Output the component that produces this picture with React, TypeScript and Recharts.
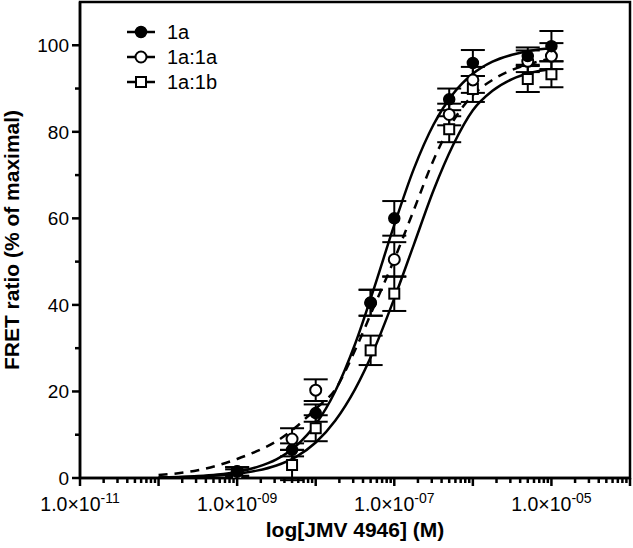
import React from 'react'
import {
  ComposedChart,
  Line,
  Scatter,
  ErrorBar,
  XAxis,
  YAxis,
  ReferenceArea,
} from 'recharts'

// concentrations (M) of the measured points
const doses = [1e-9, 5e-9, 1e-8, 5e-8, 1e-7, 5e-7, 1e-6, 5e-6, 1e-5]

const mean1a = [1.5, 6.5, 15, 40.5, 60, 87.5, 95.9, 97.5, 99.8]
const sem1a = [1, 1.5, 2, 3, 4, 2.5, 3, 2, 3.5]
const mean1a1a = [1.5, 9, 20.3, 40.5, 50.5, 84, 92, 96.3, 97.5]
const sem1a1a = [1, 2.5, 2.5, 3, 4, 2.5, 3, 2.5, 3]
const mean1a1b = [1, 3, 11.5, 29.5, 42.6, 80.6, 89.9, 92.2, 93.3]
const sem1a1b = [1, 3.5, 3, 3.4, 4, 3, 3, 3, 3]

// fitted curves, read at quarter-decade steps (log M)
const curveLog = [
  -10, -9.75, -9.5, -9.25, -9, -8.75, -8.5, -8.25, -8, -7.75, -7.5,
  -7.25, -7, -6.75, -6.5, -6.25, -6, -5.75, -5.5, -5.25, -5,
]
const fit1a = [
  0.14, 0.25, 0.44, 0.79, 1.4, 2.5, 4.3, 7.4, 12.4, 20.1, 30.9,
  44.3, 58.5, 71.5, 81.7, 88.8, 93.4, 96.2, 97.8, 98.8, 99.3,
]
const fit1a1a = [
  0.7, 1.1, 1.8, 2.9, 4.4, 6.2, 8.5, 11.8, 16, 20.5, 29.5,
  40, 50.5, 62, 73.5, 82.5, 88.5, 92, 94.3, 95.8, 97,
]
const fit1a1b = [
  0.1, 0.2, 0.35, 0.6, 1.0, 1.7, 2.9, 4.9, 8.2, 13.3, 20.5,
  30, 41.5, 54, 66.5, 77, 85, 89.5, 92.2, 93.7, 94.5,
]

const xMajor = [-11, -10, -9, -8, -7, -6, -5, -4]
const xLabelled = [-11, -9, -7, -5]
const yTicks = [0, 10, 20, 30, 40, 50, 60, 70, 80, 90, 100]
const yLabelled = [0, 20, 40, 60, 80, 100]
const legendNames = ['1a', '1a:1a', '1a:1b']

const FONT = '"Liberation Sans", Arial, Helvetica, sans-serif'

const xTicks: number[] = []
xMajor.forEach((d, i) => {
  xTicks.push(d)
  if (i < xMajor.length - 1) {
    for (let k = 2; k <= 9; k++) xTicks.push(d + Math.log10(k))
  }
})

const points = (means: number[], sems: number[]) =>
  doses.map((c, i) => ({ x: Math.log10(c), y: means[i], err: sems[i] }))
const curve = (vals: number[]) => curveLog.map((x, i) => ({ x, y: vals[i] }))

const XTick = (props: any) => {
  const { x, y, payload } = props
  const v = payload.value as number
  const major = Math.abs(v - Math.round(v)) < 1e-6
  const exp = Math.round(v)
  const lab = major && xLabelled.includes(exp)
  return (
    <g>
      <line x1={x} x2={x} y1={y} y2={y + (major ? 8 : 5)} stroke="#000" strokeWidth={2.5} />
      {lab && (
        <text x={x} y={y + 33} textAnchor="middle" fontSize={19.5} fontFamily={FONT} fill="#000">
          <tspan>1.0×10</tspan>
          <tspan dy={-8} fontSize={14}>{'-' + String(-exp).padStart(2, '0')}</tspan>
        </text>
      )}
    </g>
  )
}

const YTick = (props: any) => {
  const { x, y, payload } = props
  const v = payload.value as number
  const lab = yLabelled.includes(v)
  return (
    <g>
      <line x1={x - (lab ? 8 : 5)} x2={x} y1={y} y2={y} stroke="#000" strokeWidth={2.5} />
      {lab && (
        <text x={x - 11} y={y} dy="0.36em" textAnchor="end" fontSize={19} fontFamily={FONT} fill="#000">
          {v}
        </text>
      )}
    </g>
  )
}

const FilledDot = (p: any) => <circle cx={p.cx} cy={p.cy} r={5.5} fill="#000" stroke="#000" strokeWidth={1.5} />
const OpenDot = (p: any) => <circle cx={p.cx} cy={p.cy} r={5.5} fill="#fff" stroke="#000" strokeWidth={2} />
const OpenSquare = (p: any) => <rect x={p.cx - 5} y={p.cy - 5} width={10} height={10} fill="#fff" stroke="#000" strokeWidth={2} />

const markers = [FilledDot, OpenDot, OpenSquare]

function ChartLegend() {
  return (
    <svg width={130} height={80} style={{ position: 'absolute', left: 125, top: 20 }}>
      {legendNames.map((name, i) => {
        const cy = 12 + i * 25
        const Marker = markers[i]
        return (
          <g key={name}>
            <line x1={2} x2={30} y1={cy} y2={cy} stroke="#000" strokeWidth={2.5} />
            <Marker cx={16} cy={cy} />
            <text x={42} y={cy} dy="0.36em" fontSize={20} fontFamily={FONT} fill="#000">{name}</text>
          </g>
        )
      })}
    </svg>
  )
}

export default function App() {
  return (
    <div style={{ position: 'absolute', left: 0, top: 0, width: 633, height: 548, background: '#fff' }}>
      <ComposedChart width={633} height={548} margin={{ top: 2, right: 3, left: 0, bottom: 0 }}>
        <XAxis
          type="number"
          dataKey="x"
          domain={[-11, -4]}
          ticks={xTicks}
          interval={0}
          allowDataOverflow
          height={70}
          tickSize={0}
          tickMargin={0}
          tickLine={false}
          axisLine={{ stroke: '#000', strokeWidth: 2.5 }}
          tick={XTick}
          label={{
            value: 'log[JMV 4946] (M)',
            position: 'insideBottom',
            offset: 11,
            style: { fontFamily: FONT, fontSize: 21, fontWeight: 'bold', fill: '#000' },
          }}
        />
        <YAxis
          type="number"
          dataKey="y"
          domain={[0, 110]}
          ticks={yTicks}
          interval={0}
          allowDataOverflow
          width={80}
          tickSize={0}
          tickMargin={0}
          tickLine={false}
          axisLine={{ stroke: '#000', strokeWidth: 2.5 }}
          tick={YTick}
          label={{
            value: 'FRET ratio (% of maximal)',
            angle: -90,
            position: 'insideLeft',
            offset: 0,
            dx: 12,
            style: { fontFamily: FONT, fontSize: 21, fontWeight: 'bold', fill: '#000', textAnchor: 'middle' },
          }}
        />
        <ReferenceArea x1={-11} x2={-4} y1={0} y2={110} fill="none" stroke="#000" strokeWidth={2.5} ifOverflow="visible" />
        <Line data={curve(fit1a)} dataKey="y" type="monotone" stroke="#000" strokeWidth={2.5} dot={false} isAnimationActive={false} />
        <Line data={curve(fit1a1a)} dataKey="y" type="monotone" stroke="#000" strokeWidth={2.5} strokeDasharray="9 7" dot={false} isAnimationActive={false} />
        <Line data={curve(fit1a1b)} dataKey="y" type="monotone" stroke="#000" strokeWidth={2.5} dot={false} isAnimationActive={false} />
        <Scatter name="1a:1b" data={points(mean1a1b, sem1a1b)} shape={OpenSquare} isAnimationActive={false}>
          <ErrorBar dataKey="err" direction="y" width={12} stroke="#000" strokeWidth={2} />
        </Scatter>
        <Scatter name="1a:1a" data={points(mean1a1a, sem1a1a)} shape={OpenDot} isAnimationActive={false}>
          <ErrorBar dataKey="err" direction="y" width={12} stroke="#000" strokeWidth={2} />
        </Scatter>
        <Scatter name="1a" data={points(mean1a, sem1a)} shape={FilledDot} isAnimationActive={false}>
          <ErrorBar dataKey="err" direction="y" width={12} stroke="#000" strokeWidth={2} />
        </Scatter>
      </ComposedChart>
      <ChartLegend />
    </div>
  )
}
